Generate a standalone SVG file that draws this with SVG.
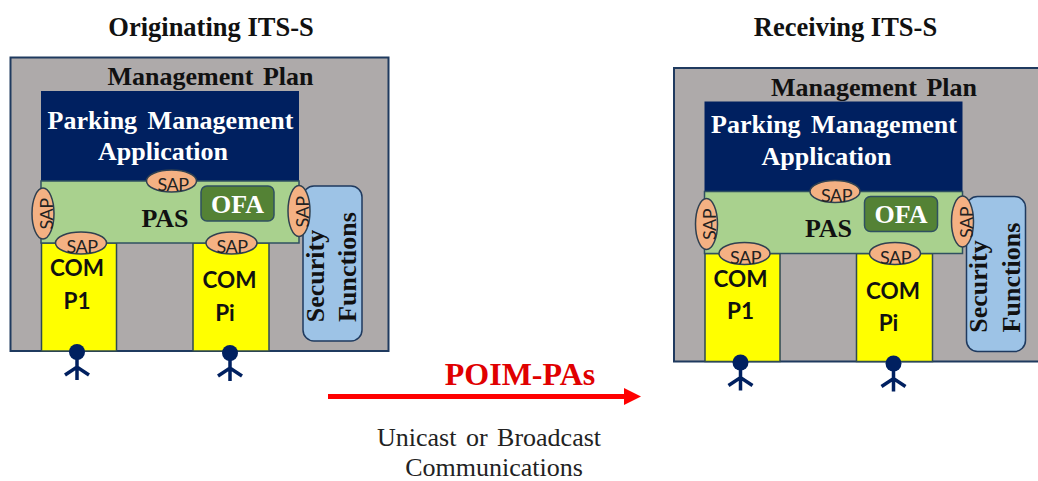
<svg xmlns="http://www.w3.org/2000/svg" width="1038" height="481" viewBox="0 0 1038 481">
<style>
.s{font-family:"Liberation Serif",serif;font-weight:700}
.c{font-family:Lato,"Liberation Sans",sans-serif}
.b{font-size:22.5px;font-weight:700;fill:#111}
.m{text-anchor:middle}
.plan{fill:#aeaaaa;stroke:#1f3a5f;stroke-width:2}
.app{fill:#002060}
.pas{fill:#a9d18e;stroke:#2f5060;stroke-width:1.5}
.com{fill:#ffff00;stroke:#2f4a50;stroke-width:1.5}
.sec{fill:#9dc3e6;stroke:#1f3a5f;stroke-width:1.5}
.ofa{fill:#548235;stroke:#2f5060;stroke-width:1.5}
.sap{fill:#f4b183;stroke:#2f4050;stroke-width:1.5}
.sapt{font-size:18px;letter-spacing:-0.5px;fill:#222}
.ant{fill:none;stroke:#002060;stroke-width:3.5}
.h{font-size:26px;fill:#fff}
.d{font-size:26px;fill:#111}
.r{font-family:"Liberation Serif",serif;font-size:26px;fill:#222;text-anchor:middle}
</style>
<rect width="1038" height="481" fill="#fff"/>
<text class="s m" x="211" y="36" font-size="26.500" fill="#111">Originating ITS-S</text>
<text class="s m" x="845.500" y="36" font-size="26.500" fill="#111">Receiving ITS-S</text>

<g id="originating-station">
<g id="plan-1"><rect class="plan" x="10.5" y="57.5" width="378" height="293.5"/><text class="s m d" x="210.5" y="85" word-spacing="3">Management Plan</text></g>
<g id="app-1"><rect class="app" x="41" y="91" width="258" height="90"/><text class="s m h" x="170.500" y="128.500" word-spacing="4">Parking Management</text><text class="s m h" x="163" y="160">Application</text></g>
<g id="com1-1"><rect class="com" x="41.500" y="243" width="75" height="108"/><text class="c m b" x="77" y="276">COM</text><text class="c m b" x="77" y="308.500">P1</text></g>
<g id="comi-1"><rect class="com" x="193" y="243" width="76" height="108"/><text class="c m b" x="229.500" y="288">COM</text><text class="c m b" x="225" y="320.500">Pi</text></g>
<g id="pas-1"><rect class="pas" x="41" y="181" width="258" height="62"/><text class="s m d" x="165" y="226.500">PAS</text></g>
<g id="ofa-1"><rect class="ofa" x="201" y="186" width="73" height="35" rx="6"/><text class="s m h" x="237.500" y="212.500">OFA</text></g>
<g id="security-1"><rect class="sec" x="303" y="186" width="59" height="155" rx="11"/><text class="s m d" transform="translate(323.500,276) rotate(-90)">Security</text><text class="s m d" transform="translate(356,267) rotate(-90)">Functions</text></g>
<g id="sap-top-1"><ellipse class="sap" cx="171.500" cy="181" rx="25" ry="11"/><text class="c m sapt" x="173" y="191">SAP</text></g>
<g id="sap-left-1"><ellipse class="sap" cx="43" cy="213.500" rx="11" ry="25.500"/><text class="c m sapt" transform="translate(52.500,214) rotate(-90)">SAP</text></g>
<g id="sap-right-1"><ellipse class="sap" cx="299" cy="211" rx="11" ry="25.500"/><text class="c m sapt" transform="translate(309,212) rotate(-90)">SAP</text></g>
<g id="sap-com1-1"><ellipse class="sap" cx="81" cy="243" rx="25.500" ry="11"/><text class="c m sapt" x="82" y="253">SAP</text></g>
<g id="sap-comi-1"><ellipse class="sap" cx="231.500" cy="243" rx="25.500" ry="11"/><text class="c m sapt" x="232" y="253">SAP</text></g>
<g id="antenna-1a"><circle cx="77" cy="352" r="8" fill="#002060"/><path class="ant" d="M77 358V380M65 375L77 367L89 375"/></g>
<g id="antenna-1b"><circle cx="230" cy="353" r="8" fill="#002060"/><path class="ant" d="M230 359V381M218 376L230 368L242 376"/></g>
</g>

<g id="receiving-station" transform="translate(663.500,10.500)">
<g id="plan-2"><rect class="plan" x="10.5" y="57.5" width="378" height="293.5"/><text class="s m d" x="210.5" y="85" word-spacing="3">Management Plan</text></g>
<g id="app-2"><rect class="app" x="41" y="91" width="258" height="90"/><text class="s m h" x="170.500" y="122.500" word-spacing="4">Parking Management</text><text class="s m h" x="163" y="154.500">Application</text></g>
<g id="com1-2"><rect class="com" x="41.500" y="243" width="75" height="108"/><text class="c m b" x="77" y="276">COM</text><text class="c m b" x="77" y="308.500">P1</text></g>
<g id="comi-2"><rect class="com" x="193" y="243" width="76" height="108"/><text class="c m b" x="229.500" y="288">COM</text><text class="c m b" x="225" y="320.500">Pi</text></g>
<g id="pas-2"><rect class="pas" x="41" y="181" width="258" height="62"/><text class="s m d" x="165" y="226.500">PAS</text></g>
<g id="ofa-2"><rect class="ofa" x="201" y="186" width="73" height="35" rx="6"/><text class="s m h" x="237.500" y="212.500">OFA</text></g>
<g id="security-2"><rect class="sec" x="303" y="186" width="59" height="155" rx="11"/><text class="s m d" transform="translate(323.500,276) rotate(-90)">Security</text><text class="s m d" transform="translate(356,267) rotate(-90)">Functions</text></g>
<g id="sap-top-2"><ellipse class="sap" cx="171.500" cy="181" rx="25" ry="11"/><text class="c m sapt" x="173" y="191">SAP</text></g>
<g id="sap-left-2"><ellipse class="sap" cx="43" cy="213.500" rx="11" ry="25.500"/><text class="c m sapt" transform="translate(52.500,214) rotate(-90)">SAP</text></g>
<g id="sap-right-2"><ellipse class="sap" cx="299" cy="211" rx="11" ry="25.500"/><text class="c m sapt" transform="translate(309,212) rotate(-90)">SAP</text></g>
<g id="sap-com1-2"><ellipse class="sap" cx="81" cy="243" rx="25.500" ry="11"/><text class="c m sapt" x="82" y="253">SAP</text></g>
<g id="sap-comi-2"><ellipse class="sap" cx="231.500" cy="243" rx="25.500" ry="11"/><text class="c m sapt" x="232" y="253">SAP</text></g>
<g id="antenna-2a"><circle cx="77" cy="352" r="8" fill="#002060"/><path class="ant" d="M77 358V380M65 375L77 367L89 375"/></g>
<g id="antenna-2b"><circle cx="230" cy="353" r="8" fill="#002060"/><path class="ant" d="M230 359V381M218 376L230 368L242 376"/></g>
</g>

<g id="connectors">
<path d="M328 396.500H625" stroke="#ff0000" stroke-width="5" fill="none"/>
<path d="M624 388L641 396.500L624 405Z" fill="#ff0000"/>
</g>
<text class="s m" x="520" y="384.500" font-size="32" fill="#e00000">POIM-PAs</text>
<text class="r" x="489" y="446" word-spacing="3">Unicast or Broadcast</text>
<text class="r" x="494" y="475.500">Communications</text>
</svg>
